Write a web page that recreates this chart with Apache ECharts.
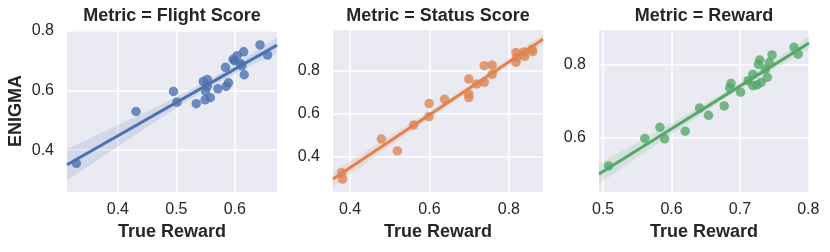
<!DOCTYPE html>
<html><head><meta charset="utf-8">
<script src="https://cdn.jsdelivr.net/npm/echarts@6/dist/echarts.min.js"></script>
<style>html,body{margin:0;padding:0;background:#fff}#c{width:830px;height:252px}</style>
</head><body><div id="c"></div>
<script>
// ---- data ----
const titles = ['Metric = Flight Score', 'Metric = Status Score', 'Metric = Reward'];
const xLabel = 'True Reward';
const yLabel = 'ENIGMA';

const flightX = [0.329,0.431,0.495,0.501,0.534,0.546,0.553,0.550,0.553,0.549,0.558,0.571,0.584,0.585,0.589,0.599,0.604,0.609,0.612,0.615,0.616,0.643,0.656,0.597];
const flightY = [0.356,0.530,0.597,0.561,0.556,0.630,0.637,0.597,0.614,0.569,0.576,0.606,0.678,0.614,0.626,0.700,0.717,0.691,0.683,0.730,0.653,0.753,0.719,0.705];

const statusX = [0.379,0.381,0.479,0.519,0.560,0.599,0.599,0.638,0.699,0.699,0.699,0.719,0.738,0.738,0.758,0.758,0.818,0.818,0.820,0.838,0.840,0.858,0.860];
const statusY = [0.326,0.296,0.482,0.427,0.547,0.586,0.647,0.667,0.761,0.691,0.675,0.738,0.823,0.746,0.826,0.783,0.884,0.839,0.860,0.887,0.866,0.899,0.888];

const rewardX = [0.508,0.561,0.583,0.590,0.620,0.641,0.654,0.677,0.685,0.687,0.701,0.712,0.719,0.719,0.725,0.731,0.727,0.729,0.737,0.740,0.743,0.747,0.779,0.785];
const rewardY = [0.521,0.597,0.628,0.596,0.617,0.681,0.661,0.687,0.737,0.749,0.725,0.757,0.774,0.743,0.745,0.752,0.802,0.814,0.789,0.766,0.807,0.828,0.849,0.830];

const flightXTicks = [0.4, 0.5, 0.6];
const flightYTicks = [0.4, 0.6, 0.8];
const statusXTicks = [0.4, 0.6, 0.8];
const statusYTicks = [0.4, 0.6, 0.8];
const rewardXTicks = [0.5, 0.6, 0.7, 0.8];
const rewardYTicks = [0.6, 0.8];

const flightXRange = [0.313, 0.672];
const flightYRange = [0.260, 0.803];
const statusXRange = [0.357, 0.886];
const statusYRange = [0.236, 0.989];
const rewardXRange = [0.494, 0.801];
const rewardYRange = [0.449, 0.897];

// ---- layout / style ----
const colors = ['#4C72B0', '#DD8452', '#55A868'];
const lefts = [67, 333, 599];
const gridW = 210, gridTop = 30, gridH = 162;
const FONT = "'Liberation Sans', Arial, Helvetica, sans-serif";
const TXT = '#262626';

const panels = [
  {x: flightX, y: flightY, xr: flightXRange, yr: flightYRange, xt: flightXTicks, yt: flightYTicks},
  {x: statusX, y: statusY, xr: statusXRange, yr: statusYRange, xt: statusXTicks, yt: statusYTicks},
  {x: rewardX, y: rewardY, xr: rewardXRange, yr: rewardYRange, xt: rewardXTicks, yt: rewardYTicks}
];

function fit(xs, ys) {
  const n = xs.length;
  const mx = xs.reduce((a,b)=>a+b,0)/n, my = ys.reduce((a,b)=>a+b,0)/n;
  let sxx = 0, sxy = 0;
  for (let i=0;i<n;i++){ sxx += (xs[i]-mx)**2; sxy += (xs[i]-mx)*(ys[i]-my); }
  const b = sxy/sxx, a = my - b*mx;
  let sse = 0;
  for (let i=0;i<n;i++){ sse += (ys[i]-a-b*xs[i])**2; }
  const s = Math.sqrt(sse/(n-2));
  return {a, b, s, n, mx, sxx};
}

function labelFmt(ticks) {
  return function (v) {
    for (const t of ticks) if (Math.abs(v - t) < 1e-7) return t.toFixed(1);
    return '';
  };
}

const grid = [], xAxis = [], yAxis = [], series = [], title = [];
panels.forEach((p, i) => {
  grid.push({left: lefts[i], top: gridTop, width: gridW, height: gridH, show: true,
    backgroundColor: '#EAEAF2', borderWidth: 0, containLabel: false});
  title.push({text: titles[i], left: lefts[i] + gridW/2, top: 7, textAlign: 'center', padding: 0,
    textStyle: {fontFamily: FONT, fontSize: 18, fontWeight: 'bold', color: TXT}});
  xAxis.push({type: 'value', gridIndex: i, min: p.xr[0], max: p.xr[1], interval: 0.001,
    axisLine: {show: false}, axisTick: {show: false}, splitLine: {show: false},
    axisLabel: {formatter: labelFmt(p.xt), fontFamily: FONT, fontSize: 16, color: TXT, margin: 10,
      showMinLabel: true, showMaxLabel: true},
    name: xLabel, nameLocation: 'middle', nameGap: 30,
    nameTextStyle: {fontFamily: FONT, fontSize: 18, fontWeight: 'bold', color: TXT}});
  yAxis.push({type: 'value', gridIndex: i, min: p.yr[0], max: p.yr[1], interval: 0.001,
    axisLine: {show: false}, axisTick: {show: false}, splitLine: {show: false},
    axisLabel: {formatter: labelFmt(p.yt), fontFamily: FONT, fontSize: 16, color: TXT, margin: 13},
    name: i === 0 ? yLabel : '', nameLocation: 'middle', nameGap: 42,
    nameTextStyle: {fontFamily: FONT, fontSize: 18, fontWeight: 'bold', color: TXT}});

  // grid lines
  series.push({type: 'line', xAxisIndex: i, yAxisIndex: i, data: [], z: 1, silent: true,
    markLine: {silent: true, symbol: ['none','none'], z: 1, animation: false,
      label: {show: false},
      lineStyle: {color: '#ffffff', width: 1.5, type: 'solid', opacity: 1},
      emphasis: {disabled: true},
      data: p.xt.map(v => ({xAxis: v})).concat(p.yt.map(v => ({yAxis: v})))}});

  const f = fit(p.x, p.y);
  const t = 2.074;
  const band = [];
  const N = 60;
  for (let k = 0; k <= N; k++) {
    const xv = p.xr[0] + (p.xr[1]-p.xr[0])*k/N;
    const yh = f.a + f.b*xv;
    const se = f.s*Math.sqrt(1/f.n + (xv-f.mx)**2/f.sxx);
    band.push([xv, yh - t*se, yh + t*se]);
  }
  series.push({type: 'custom', xAxisIndex: i, yAxisIndex: i, z: 2, silent: true,
    data: [[p.xr[0], p.yr[0]]],
    renderItem: function (params, api) {
      const pts = [];
      band.forEach(b => pts.push(api.coord([b[0], b[2]])));
      for (let k = band.length-1; k >= 0; k--) pts.push(api.coord([band[k][0], band[k][1]]));
      return {type: 'polygon', shape: {points: pts}, style: {fill: colors[i], opacity: 0.15}};
    }});
  series.push({type: 'scatter', xAxisIndex: i, yAxisIndex: i, z: 3,
    data: p.x.map((v, k) => [v, p.y[k]]), symbolSize: 9.5,
    itemStyle: {color: colors[i], opacity: 0.8}});
  series.push({type: 'line', xAxisIndex: i, yAxisIndex: i, z: 4, showSymbol: false, silent: true,
    data: [[p.xr[0], f.a + f.b*p.xr[0]], [p.xr[1], f.a + f.b*p.xr[1]]],
    lineStyle: {color: colors[i], width: 3}});
});

const chart = echarts.init(document.getElementById('c'), null, {renderer: 'canvas'});
chart.setOption({animation: false, backgroundColor: '#ffffff', title, grid, xAxis, yAxis, series});
</script></body></html>
